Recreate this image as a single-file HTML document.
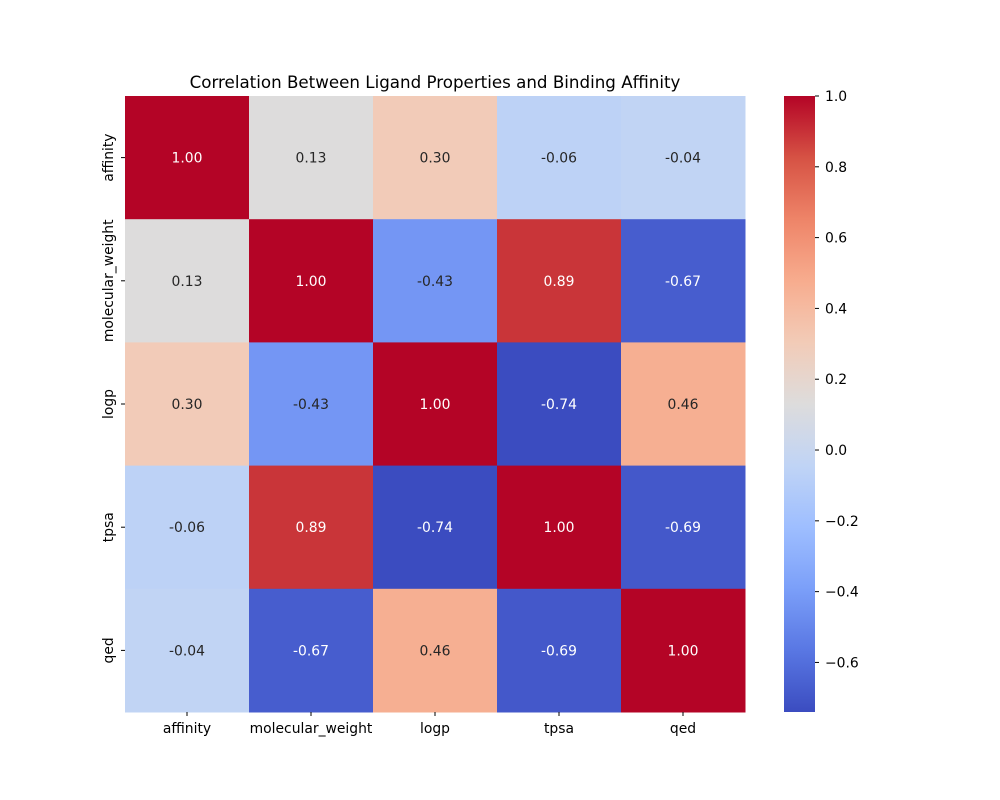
<!DOCTYPE html>
<html><head><meta charset="utf-8"><style>
html,body{margin:0;padding:0;background:#fff;width:1000px;height:800px;overflow:hidden;font-family:"DejaVu Sans","Liberation Sans",sans-serif;}
svg text{font-family:"DejaVu Sans","Liberation Sans",sans-serif;}
</style></head><body>
<svg id="chart" width="1000" height="800" xmlns="http://www.w3.org/2000/svg">
<text x="435" y="88" text-anchor="middle" font-size="16.7" fill="#000">Correlation Between Ligand Properties and Binding Affinity</text>
<g id="cells"></g>
<g id="xlabels"></g>
<g id="ylabels"></g>
<defs><linearGradient id="cbg" x1="0" y1="1" x2="0" y2="0"></linearGradient></defs>
<rect x="784" y="96" width="31" height="616" fill="url(#cbg)"/>
<g id="cbticks"></g>
</svg>
<script>
const labels = ["affinity","molecular_weight","logp","tpsa","qed"];
const row0 = [1.00, 0.13, 0.30, -0.06, -0.04];
const row1 = [0.13, 1.00, -0.43, 0.89, -0.67];
const row2 = [0.30, -0.43, 1.00, -0.74, 0.46];
const row3 = [-0.06, 0.89, -0.74, 1.00, -0.69];
const row4 = [-0.04, -0.67, 0.46, -0.69, 1.00];
const matrix = [row0,row1,row2,row3,row4];
const cbTicks = [-0.6,-0.4,-0.2,0.0,0.2,0.4,0.6,0.8,1.0];
const vmin = -0.74, vmax = 1.0;

const NS="http://www.w3.org/2000/svg";
const anchors=[[59,76,192],[89,119,227],[123,159,249],[158,190,255],[192,212,245],[221,220,220],[242,203,183],[247,172,142],[238,132,104],[214,82,68],[180,4,38]];
function cmap(t){t=Math.max(0,Math.min(1,t));const p=t*10,i=Math.min(9,Math.floor(p)),f=p-i;const a=anchors[i],b=anchors[i+1];return [0,1,2].map(k=>Math.round(a[k]+(b[k]-a[k])*f));}
function color(v){const c=cmap((v-vmin)/(vmax-vmin));return `rgb(${c[0]},${c[1]},${c[2]})`;}
function lum(v){const c=cmap((v-vmin)/(vmax-vmin));return 0.299*c[0]+0.587*c[1]+0.114*c[2];}
const x0=125,y0=96,W=620,H=616,n=labels.length,cw=W/n,ch=H/n;
const xPos=j=>x0+j*cw, yPos=i=>y0+i*ch;
const cb=(v)=>712-(v-vmin)/(vmax-vmin)*616;
const cells=document.getElementById('cells');
matrix.forEach((row,i)=>row.forEach((v,j)=>{
 const r=document.createElementNS(NS,'rect');
 r.setAttribute('x',xPos(j));r.setAttribute('y',yPos(i));r.setAttribute('width',cw+0.5);r.setAttribute('height',ch+0.5);r.setAttribute('fill',color(v));
 
 
 cells.appendChild(r);
 const t=document.createElementNS(NS,'text');
 t.setAttribute('x',xPos(j)+cw/2);t.setAttribute('y',yPos(i)+ch/2+5);t.setAttribute('text-anchor','middle');t.setAttribute('font-size','13.9');
 t.setAttribute('fill',lum(v)>128?'#262626':'#ffffff');t.textContent=v.toFixed(2);
 
 
 cells.appendChild(t);
}));
const xl=document.getElementById('xlabels'),yl=document.getElementById('ylabels');
labels.forEach((l,j)=>{
 const tk=document.createElementNS(NS,'line');tk.setAttribute('x1',xPos(j)+cw/2);tk.setAttribute('x2',xPos(j)+cw/2);tk.setAttribute('y1',712);tk.setAttribute('y2',716);tk.setAttribute('stroke','#000');
 
 
 xl.appendChild(tk);
 const t=document.createElementNS(NS,'text');t.setAttribute('x',xPos(j)+cw/2);t.setAttribute('y',733);t.setAttribute('text-anchor','middle');t.setAttribute('font-size','13.9');t.textContent=l;
 
 
 xl.appendChild(t);
 const tk2=document.createElementNS(NS,'line');tk2.setAttribute('x1',121);tk2.setAttribute('x2',125);tk2.setAttribute('y1',yPos(j)+ch/2);tk2.setAttribute('y2',yPos(j)+ch/2);tk2.setAttribute('stroke','#000');
 
 
 yl.appendChild(tk2);
 const yt=document.createElementNS(NS,'text');const yy=yPos(j)+ch/2;
 yt.setAttribute('transform',`translate(113,${yy}) rotate(-90)`);yt.setAttribute('text-anchor','middle');yt.setAttribute('font-size','13.9');yt.textContent=l;
 
 
 yl.appendChild(yt);
});
const g=document.getElementById('cbg');
for(let k=0;k<=20;k++){const s=document.createElementNS(NS,'stop');const c=cmap(k/20);s.setAttribute('offset',(k*5)+'%');s.setAttribute('stop-color',`rgb(${c[0]},${c[1]},${c[2]})`);g.appendChild(s);}
const cbt=document.getElementById('cbticks');
cbTicks.forEach(v=>{
 const y=cb(v);
 const l=document.createElementNS(NS,'line');l.setAttribute('x1',815);l.setAttribute('x2',819);l.setAttribute('y1',y);l.setAttribute('y2',y);l.setAttribute('stroke','#000');
 
 
 cbt.appendChild(l);
 const t=document.createElementNS(NS,'text');t.setAttribute('x',825);t.setAttribute('y',y+5);t.setAttribute('font-size','13.9');t.textContent=(v<0?'\u2212':'')+Math.abs(v).toFixed(1);
 
 
 cbt.appendChild(t);
});
</script>
</body></html>
